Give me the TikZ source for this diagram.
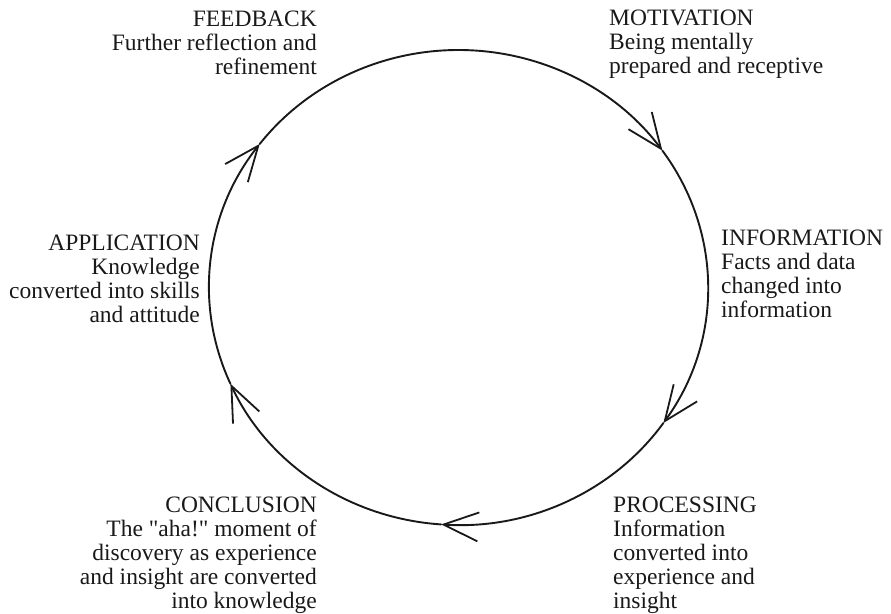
\documentclass[tikz,border=0pt]{standalone}
\usepackage{fontspec}
\setmainfont{Liberation Serif}[Ligatures=TeXOff]
\usetikzlibrary{arrows.meta}
\begin{document}
\begin{tikzpicture}[x=1pt,y=1pt,
  lbl/.style={inner sep=0pt, font=\fontsize{23.5}{24}\selectfont, text=black!90},
  cyc/.style={line width=1.9pt, draw=black!90, line cap=round,
    -{Straight Barb[length=35pt,width=29pt,line width=1.8pt]}},
]
\useasboundingbox (0,0) rectangle (891,613);
\def\rx{249.5}
\def\ry{237.5}
\coordinate (c) at (458.5,325.5);
\coordinate (t1) at ([shift={(c)}]35.2:\rx pt and \ry pt);
\coordinate (t2) at ([shift={(c)}]-34.8:\rx pt and \ry pt);
\coordinate (t3) at ([shift={(c)}]-94:\rx pt and \ry pt);
\coordinate (t4) at ([shift={(c)}]-156.1:\rx pt and \ry pt);
\coordinate (t5) at ([shift={(c)}]142.8:\rx pt and \ry pt);
\draw[cyc] (t5) arc[start angle=142.8, end angle=35.2, x radius=\rx pt, y radius=\ry pt];
\draw[cyc] (t1) arc[start angle=35.2, end angle=-34.8, x radius=\rx pt, y radius=\ry pt];
\draw[cyc] (t2) arc[start angle=-34.8, end angle=-94, x radius=\rx pt, y radius=\ry pt];
\draw[cyc] (t3) arc[start angle=-94, end angle=-156.1, x radius=\rx pt, y radius=\ry pt];
\draw[cyc] (t4) arc[start angle=-156.1, end angle=-217.2, x radius=\rx pt, y radius=\ry pt];
\node[lbl, anchor=base east] (feedback) at (317,586) {\begin{tabular}[t]{@{}r@{}}FEEDBACK\\Further reflection and\\refinement\end{tabular}};
\node[lbl, anchor=base west] (motivation) at (609,587) {\begin{tabular}[t]{@{}l@{}}MOTIVATION\\Being mentally\\prepared and receptive\end{tabular}};
\node[lbl, anchor=base west] (information) at (721,367) {\begin{tabular}[t]{@{}l@{}}INFORMATION\\Facts and data\\changed into\\information\end{tabular}};
\node[lbl, anchor=base east] (application) at (200,362) {\begin{tabular}[t]{@{}r@{}}APPLICATION\\Knowledge\\converted into skills\\and attitude\end{tabular}};
\node[lbl, anchor=base east] (conclusion) at (317,100) {\begin{tabular}[t]{@{}r@{}}CONCLUSION\\The "aha!" moment of\\discovery as experience\\and insight are converted\\into knowledge\end{tabular}};
\node[lbl, anchor=base west] (processing) at (613,100) {\begin{tabular}[t]{@{}l@{}}PROCESSING\\Information\\converted into\\experience and\\insight\end{tabular}};
\end{tikzpicture}
\end{document}
